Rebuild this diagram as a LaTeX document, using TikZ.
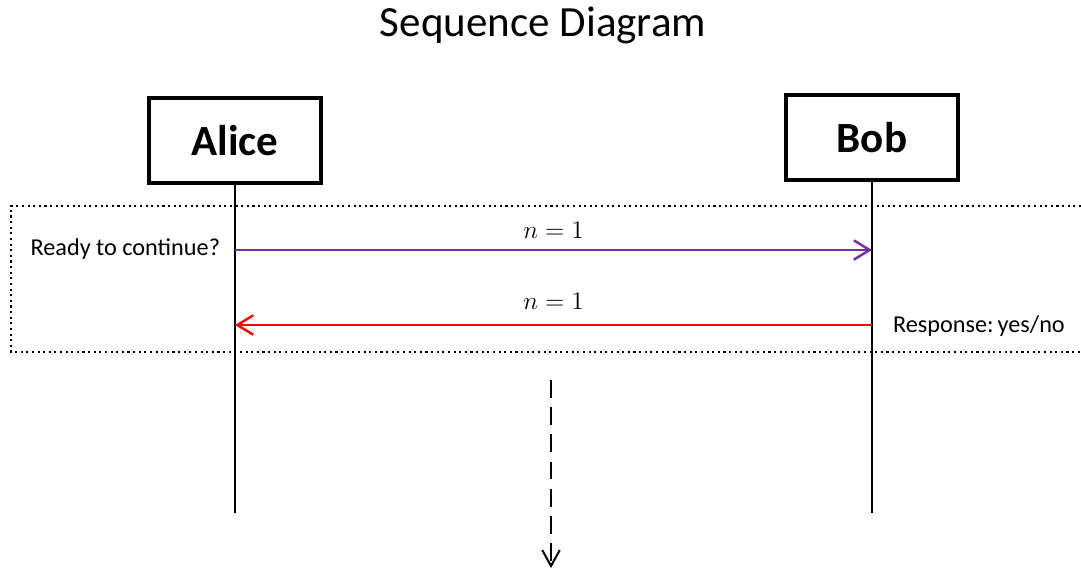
\documentclass[tikz,border=0pt]{standalone}
\usepackage{fontspec}
\setmainfont{Carlito}
\usetikzlibrary{arrows.meta}
\definecolor{msgpurple}{RGB}{112,48,160}

\begin{document}
\begin{tikzpicture}[x=0.02cm, y=-0.02cm, line width=1.15pt,
  actor/.style={draw, line width=2.3pt, minimum width=3.44cm, minimum height=1.7cm,
    font=\fontsize{24.5}{28}\selectfont\bfseries},
  msg/.style={line width=1.4pt, -{Straight Barb[length=9pt,width=11pt]}},
  msglabel/.style={midway, anchor=base, text=black, font=\fontsize{15}{18}\selectfont},
  lbl/.style={font=\fontsize{13.8}{16}\selectfont, inner sep=0pt}]
\useasboundingbox (0,0) rectangle (1081,571);

\node[font=\fontsize{24.5}{28}\selectfont] (title) at (543,25) {Sequence Diagram};

% 两个参与者和生命线
\node[actor] (alice) at (235,140.5) {Alice};
\node[actor] (bob) at (872,137.5) {Bob};
\coordinate (aliceend) at (235,513);
\coordinate (bobend) at (872,513);
\draw (alice) -- (aliceend);
\draw (bob) -- (bobend);

% 虚线框
\draw[dotted, line width=1.2pt] (1081,206) -| (11,352) -- (1081,352);

% 消息
\coordinate (ask1) at (235,250);
\coordinate (ask2) at (872,250);
\coordinate (ans1) at (872,325);
\coordinate (ans2) at (235,325);
\draw[msg, msgpurple] (ask1) -- node[msglabel, yshift=6.8pt] {$n=1$} (ask2);
\draw[msg, red] (ans1) -- node[msglabel, yshift=9.1pt] {$n=1$} (ans2);
\node[lbl, anchor=east] (ask) at (221,249) {Ready to continue?};
\node[lbl, anchor=west] (ans) at (892,326) {Response:\,yes/no};

% 向下继续
\coordinate (more) at (551,380);
\coordinate (moreend) at (551,568);
\draw[dash pattern=on 10pt off 5.5pt, -{Straight Barb[length=9pt,width=10pt]}] (more) -- (moreend);
\end{tikzpicture}
\end{document}
